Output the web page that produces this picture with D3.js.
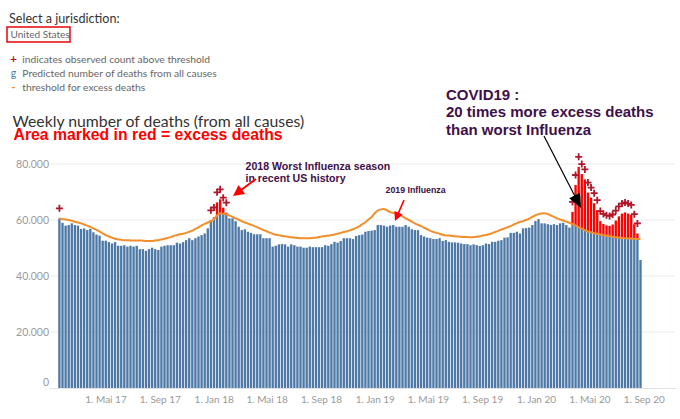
<!DOCTYPE html>
<html><head><meta charset="utf-8">
<script src="https://cdn.jsdelivr.net/npm/d3@7"></script>
<style>body{margin:0;background:#fff} svg{display:block}</style>
</head><body>
<svg id="c" width="680" height="419"></svg>
<script>
// ---- DATA ----
const firstWeek = "2017-01-14";
const weeklyDeaths = [
60600,59000,58000,58200,58800,58200,58000,56800,57000,56400,
56800,55600,54800,54400,52600,52600,52100,51600,52100,50800,
50800,51000,50500,50800,50500,50800,49600,49600,49000,49600,
50100,49600,49300,50500,50800,51000,51000,51000,51900,51600,
52100,52800,53500,52800,53500,54100,54600,55200,57000,59900,
60900,66300,67400,64400,62600,60600,60600,59600,57600,56400,
56700,55800,55400,54900,54900,54900,53500,53500,53500,50500,
50800,51300,51400,51300,50500,51300,51000,50500,50500,50100,
50100,50500,50300,50300,50300,50300,51000,50800,51400,52200,
51900,52500,53500,53500,53500,53200,54300,54600,54800,55800,
56100,56200,56400,58200,58200,58000,57600,58000,58200,57600,
57600,57600,58200,57600,56700,56400,56400,54600,54100,53700,
53500,53200,53200,53500,52500,52800,52200,52000,52000,51900,
51600,51400,51400,51000,51300,51000,50700,51000,51600,51400,
52200,52200,52600,52800,53700,53800,55400,55400,55800,55200,
57000,57100,57300,58200,59600,60300,58800,58800,58500,58200,
58500,58200,58800,59000,58200,57300,62900,72500,79000,76400,
74500,69800,68000,66000,63500,59600,58600,58100,57900,58400,
59800,61300,62300,62700,62300,61800,58500,55200,45700];
const threshold = [
60500,60300,60200,60000,59700,59400,59100,58800,58400,58000,
57500,57000,56500,55900,55200,54600,54100,53700,53300,53100,
52900,52800,52800,52700,52700,52700,52700,52600,52500,52500,
52500,52700,52800,53000,53300,53600,53900,54300,54600,54900,
55100,55400,55800,56200,56800,57400,58100,58600,59100,59600,
60300,61600,62400,62200,62000,61600,61100,60600,60100,59600,
59100,58700,58300,57900,57400,56900,56400,56000,55500,55100,
54700,54600,54300,54200,54000,53800,53700,53600,53500,53500,
53500,53500,53600,53700,53900,54100,54300,54400,54600,54800,
55100,55400,55700,56000,56300,56700,57200,57700,58500,59200,
60200,61100,62400,63400,63800,63900,63400,62800,62500,62400,
61900,61300,60600,60000,59400,58800,58300,57800,57200,56700,
56100,55700,55400,55100,54700,54500,54500,54300,54200,54100,
54000,53900,53900,53800,53900,54000,54200,54500,54600,54900,
55300,55700,56100,56600,57000,57400,57800,58400,58900,59300,
59600,60000,60500,61100,61700,62100,62300,62400,62100,61600,
61100,60600,60200,59800,59400,59000,58500,58000,57400,56900,
56300,55900,55600,55300,55100,54800,54600,54400,54200,54000,
53800,53700,53600,53500,53400,53400,53300,53200,53200];
// weeks (index) where the observed count is above threshold
const aboveThresholdWeeks = [0,49,50,51,52,53,54,166,167,168,169,170,171,172,173,174,175,176,177,178,179,180,181,182,183,184,185,186,187];
const yTicks = [0,20000,40000,60000,80000];
const xTickDates = ["2017-05-01","2017-09-01","2018-01-01","2018-05-01","2018-09-01","2019-01-01","2019-05-01","2019-09-01","2020-01-01","2020-05-01","2020-09-01"];

// ---- CHART ----
const svg = d3.select("#c");
const parse = d3.timeParse("%Y-%m-%d");
const start = parse(firstWeek);
const weeks = weeklyDeaths.map((v,i)=>({i, date:d3.timeDay.offset(start,7*i), v, t:threshold[i]}));

const x = d3.scaleTime().domain([parse("2017-01-01"), parse("2020-01-01")]).range([52.5, 536]);
const y = d3.scaleLinear().domain([0,80000]).range([388,164]);
const bw = 2.35;

const de = d3.timeFormatLocale({dateTime:"%A, %e. %B %Y, %X",date:"%d.%m.%Y",time:"%H:%M:%S",periods:["AM","PM"],
  days:["Sonntag","Montag","Dienstag","Mittwoch","Donnerstag","Freitag","Samstag"],shortDays:["So","Mo","Di","Mi","Do","Fr","Sa"],
  months:["Januar","Februar","März","April","Mai","Juni","Juli","August","September","Oktober","November","Dezember"],
  shortMonths:["Jan","Feb","Mär","Apr","Mai","Jun","Jul","Aug","Sep","Okt","Nov","Dez"]});
const fmtDate = de.format("%-d. %b %y");
const fmtNum = d3.formatLocale({decimal:",",thousands:".",grouping:[3],currency:["","€"]}).format(",");

const tfont = "Lato, 'Open Sans', sans-serif";

// gridlines
svg.append("g").selectAll("line").data(yTicks.filter(d=>d>0)).join("line")
  .attr("x1",50).attr("x2",674).attr("y1",d=>y(d)).attr("y2",d=>y(d))
  .attr("stroke","#ececec").attr("stroke-width",1);

// y labels
const yAxis = d3.axisLeft(y).tickValues(yTicks).tickSize(0).tickFormat(fmtNum);
const ya = svg.append("g").attr("transform","translate(49,0)").call(yAxis);
ya.select(".domain").remove();
ya.selectAll("text").attr("font-family",tfont).attr("font-size",10.5).attr("fill","#999").attr("x",0)
  .attr("dy",d=>d===0?"-0.25em":"0.35em");

// bars
const bars = svg.append("g");
bars.selectAll("rect.b").data(weeks).join("rect").attr("class","b")
  .attr("x",d=>x(d.date)).attr("width",bw)
  .attr("y",d=>y(Math.min(d.v,d.t))).attr("height",d=>y(0)-y(Math.min(d.v,d.t)))
  .attr("fill","#4e79a7");
bars.selectAll("rect.r").data(weeks.filter(d=>d.v>d.t)).join("rect").attr("class","r")
  .attr("x",d=>x(d.date)).attr("width",bw)
  .attr("y",d=>y(d.v)).attr("height",d=>y(d.t)-y(d.v))
  .attr("fill","#ff0000");

// baseline
svg.append("line").attr("x1",50).attr("x2",676).attr("y1",y(0)+0.5).attr("y2",y(0)+0.5).attr("stroke","#e2e2e2");

// threshold line
svg.append("path").datum(weeks)
  .attr("d",d3.line().x(d=>x(d.date)+bw/2).y(d=>y(d.t)).curve(d3.curveMonotoneX))
  .attr("fill","none").attr("stroke","#f28e2b").attr("stroke-width",2);

// plus markers
const pl = svg.append("g");
aboveThresholdWeeks.forEach(i=>{
  const w = weeks[i], cx = x(w.date)+bw/2, cy = y(w.v)-10, s=3.5;
  pl.append("path").attr("d",`M${cx-s},${cy}H${cx+s}M${cx},${cy-s}V${cy+s}`)
    .attr("stroke","#b0172b").attr("stroke-width",1.8).attr("fill","none");
});

// x labels
const xAxis = d3.axisBottom(x).tickValues(xTickDates.map(parse)).tickSize(0).tickFormat(fmtDate);
const xa = svg.append("g").attr("transform","translate(0,393)").call(xAxis);
xa.select(".domain").remove();
xa.selectAll("text").attr("font-family",tfont).attr("font-size",10).attr("fill","#999");

// header texts
svg.append("text").attr("x",9).attr("y",22.5).text("Select a jurisdiction:")
  .attr("font-family",tfont).attr("font-size",12.6).attr("fill","#333");
svg.append("rect").attr("x",7).attr("y",27).attr("width",63).attr("height",15)
  .attr("fill","none").attr("stroke","#e8141b").attr("stroke-width",1.6);
svg.append("text").attr("x",10.5).attr("y",37.5).text("United States")
  .attr("font-family",tfont).attr("font-size",10).attr("fill","#666");

const legend = [
  {sym:"+", col:"#b0172b", txt:"indicates observed count above threshold", y:63.3, w:"bold", fs:12},
  {sym:"g", col:"#4e79a7", txt:"Predicted number of deaths from all causes", y:77.3, w:"normal", fs:10.5},
  {sym:"-", col:"#f28e2b", txt:"threshold for excess deaths", y:91.3, w:"bold", fs:12}];
legend.forEach(l=>{
  svg.append("text").attr("x",13.5).attr("y",l.y).attr("text-anchor","middle").text(l.sym)
    .attr("font-family",tfont).attr("font-size",l.fs).attr("font-weight",l.w).attr("fill",l.col);
  svg.append("text").attr("x",22.3).attr("y",l.y).text(l.txt)
    .attr("font-family",tfont).attr("font-size",10.3).attr("fill","#666");
});

svg.append("text").attr("x",12.5).attr("y",126.8).text("Weekly number of deaths (from all causes)")
  .attr("font-family",tfont).attr("font-size",15.8).attr("fill","#333");
svg.append("text").attr("x",13.5).attr("y",139.5).text("Area marked in red = excess deaths")
  .attr("font-family","'Liberation Sans', Arial, sans-serif").attr("font-size",15.8).attr("font-weight","bold").attr("fill","#ff0000");

const purple = "#3e1047";
const af = "'Liberation Sans', Arial, sans-serif";
function txt(x0,y0,s,fs,col){svg.append("text").attr("x",x0).attr("y",y0).text(s)
  .attr("font-family",af).attr("font-size",fs).attr("font-weight","bold").attr("fill",col);}
txt(245.5,169.5,"2018 Worst Influenza season",10.6,purple);
txt(245.5,182,"in recent US history",10.6,purple);
txt(385.5,193,"2019 Influenza",8.8,purple);
txt(446,99.5,"COVID19 :",15,purple);
txt(446,117,"20 times more excess deaths",15,purple);
txt(446,134.5,"than worst Influenza",15,purple);

function arrow(x1,y1,x2,y2,col,lw,hl,hw){
  const dx=x2-x1, dy=y2-y1, L=Math.hypot(dx,dy), ux=dx/L, uy=dy/L;
  const bx=x2-ux*hl, by=y2-uy*hl;
  svg.append("line").attr("x1",x1).attr("y1",y1).attr("x2",bx+ux*1).attr("y2",by+uy*1)
    .attr("stroke",col).attr("stroke-width",lw);
  svg.append("path").attr("d",`M${x2},${y2}L${bx-uy*hw/2},${by+ux*hw/2}L${bx+uy*hw/2},${by-ux*hw/2}Z`).attr("fill",col);
}
arrow(256,179,233,196,"#ff0000",2,11,11);
arrow(404,200,395,221,"#ff0000",1.6,9,9);
arrow(544,136,581,208,"#000000",1.2,14,12);
</script>
</body></html>
